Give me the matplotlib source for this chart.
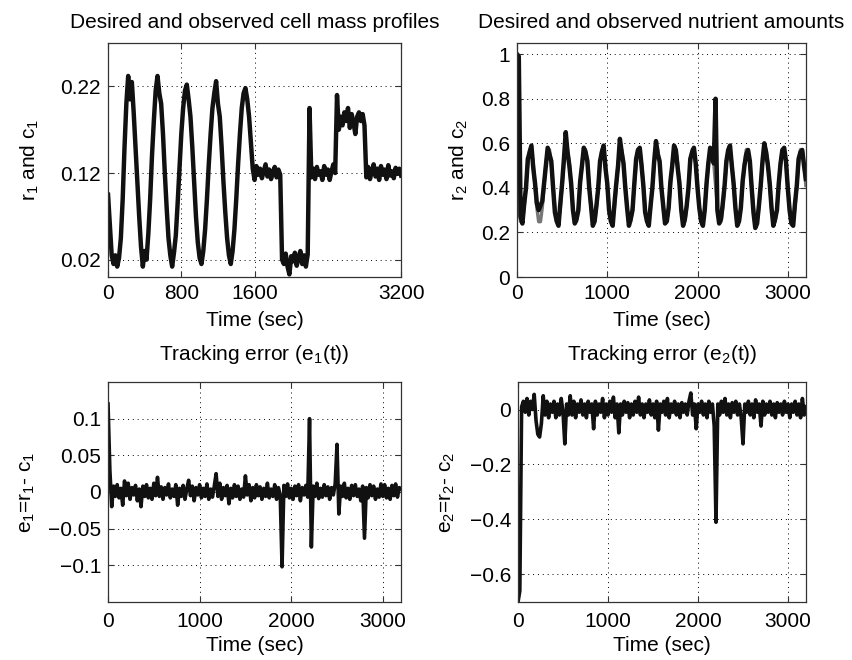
import numpy as np
import matplotlib
matplotlib.use("Agg")
import matplotlib.pyplot as plt

plt.rcParams['font.family'] = ['Liberation Sans', 'DejaVu Sans']
plt.rcParams['mathtext.fontset'] = 'custom'
plt.rcParams['mathtext.rm'] = 'Liberation Sans'
plt.rcParams['mathtext.it'] = 'Liberation Sans'
plt.rcParams['axes.unicode_minus'] = True

# time axis (sec), one sample every 20 s
t = np.arange(0, 3201, 20)

# observed cell mass c1
c1 = [0.095, 0.06, 0.025, 0.015, 0.025, 0.012, 0.022, 0.045, 0.09, 0.15,
      0.2, 0.232, 0.205, 0.225, 0.19, 0.15, 0.11, 0.07, 0.035, 0.012,
      0.03, 0.02, 0.05, 0.09, 0.14, 0.18, 0.215, 0.232, 0.212, 0.2,
      0.165, 0.12, 0.08, 0.045, 0.025, 0.012, 0.028, 0.048, 0.085, 0.125,
      0.165, 0.195, 0.215, 0.222, 0.205, 0.185, 0.15, 0.11, 0.07, 0.04,
      0.022, 0.015, 0.03, 0.055, 0.09, 0.13, 0.165, 0.195, 0.212, 0.226,
      0.2, 0.185, 0.15, 0.11, 0.075, 0.045, 0.025, 0.015, 0.03, 0.055,
      0.09, 0.13, 0.165, 0.195, 0.212, 0.218, 0.205, 0.185, 0.155, 0.125,
      0.112, 0.128, 0.118, 0.125, 0.114, 0.122, 0.13, 0.116, 0.124, 0.113,
      0.121, 0.127, 0.115, 0.124, 0.118, 0.02, 0.015, 0.027, 0.012, 0.003,
      0.024, 0.018, 0.028, 0.013, 0.022, 0.03, 0.015, 0.025, 0.012, 0.026,
      0.195, 0.115, 0.125, 0.113, 0.127, 0.118, 0.122, 0.112, 0.128, 0.118,
      0.124, 0.112, 0.122, 0.13, 0.12, 0.21, 0.17, 0.185, 0.175, 0.19,
      0.18, 0.195, 0.172, 0.188, 0.178, 0.165, 0.185, 0.19, 0.18, 0.188,
      0.175, 0.115, 0.127, 0.113, 0.122, 0.13, 0.116, 0.125, 0.112, 0.128,
      0.118, 0.124, 0.113, 0.129, 0.117, 0.122, 0.114, 0.126, 0.119, 0.125,
      0.117]

# desired nutrient amount r2
r2 = [0.41, 0.31, 0.248, 0.248, 0.31, 0.41, 0.51, 0.572, 0.572, 0.51] * 16 + [0.41]

# observed nutrient amount c2
c2 = [1.0, 0.99, 0.27, 0.24, 0.33, 0.40, 0.53, 0.56, 0.59, 0.49,
      0.42, 0.33, 0.30, 0.32, 0.34, 0.42, 0.50, 0.58, 0.55, 0.52,
      0.40, 0.29, 0.25, 0.23, 0.33, 0.42, 0.53, 0.65, 0.56, 0.50,
      0.42, 0.30, 0.24, 0.26, 0.30, 0.43, 0.50, 0.58, 0.56, 0.52,
      0.40, 0.32, 0.23, 0.25, 0.32, 0.40, 0.52, 0.56, 0.59, 0.49,
      0.42, 0.30, 0.25, 0.23, 0.33, 0.42, 0.50, 0.62, 0.56, 0.51,
      0.40, 0.31, 0.23, 0.26, 0.30, 0.42, 0.53, 0.57, 0.58, 0.50,
      0.41, 0.29, 0.25, 0.23, 0.32, 0.40, 0.52, 0.61, 0.55, 0.52,
      0.40, 0.32, 0.24, 0.25, 0.31, 0.43, 0.50, 0.59, 0.57, 0.49,
      0.42, 0.30, 0.23, 0.26, 0.32, 0.40, 0.53, 0.56, 0.58, 0.51,
      0.40, 0.31, 0.25, 0.23, 0.30, 0.42, 0.51, 0.58, 0.55, 0.51,
      0.80, 0.30, 0.24, 0.26, 0.33, 0.41, 0.52, 0.57, 0.59, 0.50,
      0.42, 0.31, 0.23, 0.25, 0.31, 0.43, 0.50, 0.55, 0.57, 0.52,
      0.40, 0.29, 0.22, 0.24, 0.32, 0.41, 0.52, 0.60, 0.56, 0.50,
      0.42, 0.31, 0.23, 0.26, 0.30, 0.42, 0.51, 0.57, 0.58, 0.52,
      0.40, 0.30, 0.24, 0.23, 0.33, 0.41, 0.53, 0.56, 0.57, 0.50,
      0.44]

# tracking error e1 = r1 - c1
e1 = [0.12, 0.03, -0.02, 0.008, -0.006, 0.01, -0.008, 0.005, -0.018, 0.015,
      -0.005, 0.012, -0.01, 0.006, -0.004, 0.009, -0.012, 0.004, -0.02, 0.008,
      -0.006, 0.01, -0.008, 0.005, -0.01, 0.012, -0.005, 0.02, -0.006, 0.007,
      -0.01, 0.006, -0.004, 0.011, -0.008, 0.004, -0.006, 0.01, -0.018, 0.005,
      -0.006, 0.009, -0.01, 0.004, 0.016, -0.005, 0.008, -0.012, 0.006, -0.004,
      0.01, -0.008, 0.005, -0.006, 0.011, -0.01, 0.004, -0.007, 0.008, 0.025,
      -0.006, 0.012, -0.01, 0.006, -0.005, 0.009, -0.016, 0.005, -0.008, 0.01,
      -0.006, 0.008, -0.01, 0.004, -0.007, 0.022, -0.004, 0.01, -0.012, 0.006,
      -0.008, 0.01, -0.005, 0.007, -0.01, 0.005, -0.006, 0.012, -0.008, 0.004,
      -0.006, 0.01, -0.01, 0.006, -0.004, -0.102, 0.009, -0.006, 0.011, -0.008,
      0.005, -0.01, 0.008, -0.005, 0.01, -0.012, 0.006, -0.004, 0.009, -0.007,
      0.1, -0.075, 0.008, -0.006, 0.012, -0.009, 0.005, -0.007, 0.01, -0.005,
      0.007, -0.01, 0.006, -0.004, 0.011, 0.065, -0.03, 0.008, -0.006, 0.012,
      -0.008, 0.005, -0.01, 0.009, -0.005, 0.01, -0.006, 0.004, -0.012, 0.008,
      -0.063, 0.006, -0.008, 0.01, -0.005, 0.008, -0.01, 0.004, -0.007, 0.011,
      -0.006, 0.01, -0.008, 0.005, -0.01, 0.009, -0.005, 0.011, -0.007, 0.006,
      0.004]

# tracking error e2 = r2 - c2
e2 = [-0.70, -0.66, 0.01, 0.03, -0.01, 0.04, -0.02, 0.03, 0.0, 0.055,
      -0.04, -0.09, -0.1, -0.05, 0.05, -0.02, 0.03, -0.03, 0.02, -0.01,
      0.03, -0.03, 0.02, -0.02, 0.04, -0.01, -0.125, 0.02, -0.02, 0.05,
      -0.02, 0.03, -0.03, 0.02, -0.01, 0.035, -0.02, 0.02, -0.03, 0.03,
      -0.01, 0.02, -0.07, 0.03, -0.02, 0.02, -0.01, 0.04, -0.03, 0.02,
      -0.02, 0.03, -0.01, 0.045, -0.03, 0.02, -0.085, 0.02, -0.02, 0.03,
      -0.01, 0.025, -0.03, 0.02, -0.02, 0.03, -0.01, 0.045, -0.02, 0.02,
      -0.03, 0.02, -0.01, 0.035, -0.02, 0.02, -0.03, 0.03, -0.075, 0.02,
      -0.01, 0.03, -0.02, 0.04, -0.03, 0.02, -0.01, 0.03, -0.02, 0.02,
      -0.03, 0.025, -0.01, 0.02, -0.02, 0.03, 0.06, -0.02, 0.02, -0.07,
      0.02, -0.01, 0.03, -0.02, 0.02, -0.03, 0.03, -0.01, 0.02, -0.06,
      -0.41, 0.02, -0.02, 0.03, -0.01, 0.04, -0.02, 0.02, -0.03, 0.025,
      -0.01, 0.03, -0.02, 0.02, -0.03, -0.125, 0.02, -0.01, 0.03, -0.02,
      0.02, -0.03, 0.035, -0.01, 0.02, -0.06, 0.03, -0.02, 0.02, -0.01,
      0.03, -0.02, 0.02, -0.03, 0.025, -0.01, 0.02, -0.02, 0.03, -0.01,
      0.02, -0.03, 0.02, -0.01, 0.03, -0.02, 0.02, -0.03, 0.04, -0.02,
      0.01]

FS = 15

fig = plt.figure(figsize=(8.52, 6.6), dpi=100)
ax1 = fig.add_axes([0.1268, 0.5803, 0.344, 0.3545])
ax2 = fig.add_axes([0.6068, 0.5803, 0.339, 0.3545])
ax3 = fig.add_axes([0.1268, 0.0879, 0.344, 0.3333])
ax4 = fig.add_axes([0.6080, 0.0879, 0.338, 0.3333])


def style(ax, xpad, lpad):
    ax.grid(True, color='k', linestyle=(0, (1, 4)), linewidth=0.7)
    ax.tick_params(direction='in', top=True, right=True, length=4,
                   labelsize=FS, color='#333333')
    ax.tick_params(axis='y', pad=5)
    ax.tick_params(axis='x', pad=xpad)
    for s in ax.spines.values():
        s.set_color('#333333')
        s.set_linewidth(0.9)
    ax.set_xlabel('Time (sec)', fontsize=FS, labelpad=lpad)


# cell mass
ax1.plot(t, c1, color='#111111', linewidth=3.2)
ax1.set_xlim(0, 3200)
ax1.set_ylim(0, 0.27)
ax1.set_xticks([0, 800, 1600, 3200])
ax1.set_yticks([0.02, 0.12, 0.22])
ax1.set_yticklabels(['0.02', '0.12', '0.22'])
style(ax1, 5, 6)
ax1.set_title('Desired and observed cell mass profiles', fontsize=FS, pad=11)
ax1.set_ylabel(r'r$\mathregular{_1}$ and c$\mathregular{_1}$', fontsize=FS)
ax1.yaxis.set_label_coords(-0.23, 0.5)

# nutrient
ax2.plot(t, r2, color='#777777', linewidth=2.4)
ax2.plot(t, c2, color='#111111', linewidth=3.2)
ax2.set_xlim(0, 3200)
ax2.set_ylim(0, 1.05)
ax2.set_xticks([0, 1000, 2000, 3000])
ax2.set_yticks([0, 0.2, 0.4, 0.6, 0.8, 1.0])
ax2.set_yticklabels(['0', '0.2', '0.4', '0.6', '0.8', '1'])
style(ax2, 5, 6)
ax2.set_title('Desired and observed nutrient amounts', fontsize=FS, pad=11)
ax2.set_ylabel(r'r$\mathregular{_2}$ and c$\mathregular{_2}$', fontsize=FS)
ax2.yaxis.set_label_coords(-0.163, 0.5)

# error 1
ax3.plot(t, e1, color='#111111', linewidth=2.6)
ax3.set_xlim(0, 3200)
ax3.set_ylim(-0.15, 0.15)
ax3.set_xticks([0, 1000, 2000, 3000])
ax3.set_yticks([-0.1, -0.05, 0, 0.05, 0.1])
ax3.set_yticklabels(['\u22120.1', '\u22120.05', '0', '0.05', '0.1'])
style(ax3, 7, 4)
ax3.set_title(r'Tracking error (e$\mathregular{_1}$(t))', fontsize=FS, pad=16)
ax3.set_ylabel(r'e$\mathregular{_1}$=r$\mathregular{_1}$- c$\mathregular{_1}$', fontsize=FS)
ax3.yaxis.set_label_coords(-0.242, 0.5)

# error 2
ax4.plot(t, e2, color='#111111', linewidth=2.6)
ax4.set_xlim(0, 3200)
ax4.set_ylim(-0.7, 0.1)
ax4.set_xticks([0, 1000, 2000, 3000])
ax4.set_yticks([-0.6, -0.4, -0.2, 0])
ax4.set_yticklabels(['\u22120.6', '\u22120.4', '\u22120.2', '0'])
style(ax4, 7, 4)
ax4.set_title(r'Tracking error (e$\mathregular{_2}$(t))', fontsize=FS, pad=16)
ax4.set_ylabel(r'e$\mathregular{_2}$=r$\mathregular{_2}$- c$\mathregular{_2}$', fontsize=FS)
ax4.yaxis.set_label_coords(-0.212, 0.5)

fig.savefig('out.png', dpi=100)
